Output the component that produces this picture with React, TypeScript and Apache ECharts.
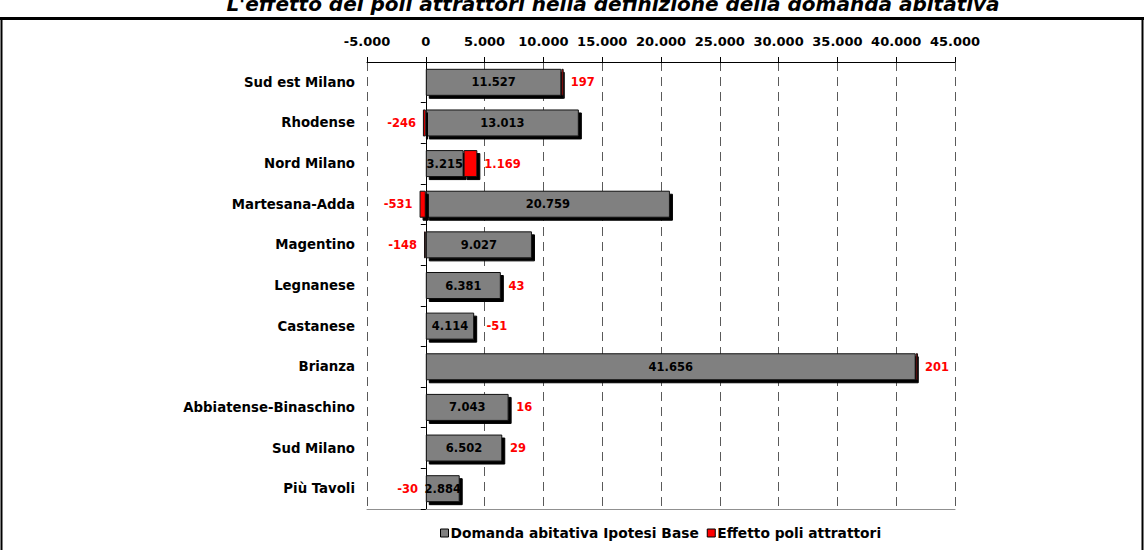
import React, { useEffect, useRef } from "react";
import * as echarts from "echarts";

const categories = [
  "Sud est Milano",
  "Rhodense",
  "Nord Milano",
  "Martesana-Adda",
  "Magentino",
  "Legnanese",
  "Castanese",
  "Brianza",
  "Abbiatense-Binaschino",
  "Sud Milano",
  "Più Tavoli",
];
const baseDemand = [11527, 13013, 3215, 20759, 9027, 6381, 4114, 41656, 7043, 6502, 2884];
const attractorEffect = [197, -246, 1169, -531, -148, 43, -51, 201, 16, 29, -30];
const axisMin = -5000;
const axisMax = 45000;
const axisStep = 5000;
const labelAfterBase = ["Castanese"];

const titleText = "L'effetto dei poli attrattori nella definizione della domanda abitativa";
const seriesNames = ["Domanda abitativa Ipotesi Base", "Effetto poli attrattori"];

const FONT = "'DejaVu Sans', 'Liberation Sans', Arial, sans-serif";

function fmt(v: number): string {
  const s = Math.abs(v)
    .toString()
    .replace(/\B(?=(\d{3})+(?!\d))/g, ".");
  return (v < 0 ? "-" : "") + s;
}

export default function App() {
  const ref = useRef<HTMLDivElement>(null);

  useEffect(() => {
    if (!ref.current) return;
    const chart = echarts.init(ref.current, undefined, { renderer: "svg" });

    const gridLeft = 367;
    const gridRight = 189;
    const gridWidth = 1144 - gridLeft - gridRight;
    const pxPerUnit = gridWidth / (axisMax - axisMin);

    const shadow = {
      shadowColor: "#000",
      shadowBlur: 0,
      shadowOffsetX: 3,
      shadowOffsetY: 3,
    };

    const effectData = attractorEffect.map((v, i) => {
      const after = labelAfterBase.includes(categories[i]);
      return {
        value: v,
        label: after
          ? {
              position: "right" as const,
              distance: 0,
              offset: [baseDemand[i] * pxPerUnit + 12, 0],
            }
          : { position: v < 0 ? ("left" as const) : ("right" as const) },
      };
    });

    chart.setOption({
      animation: false,
      backgroundColor: "#fff",
      textStyle: { fontFamily: FONT },
      graphic: [
        {
          type: "text",
          x: 613,
          y: 14,
          style: {
            text: titleText,
            font: `italic bold 20px ${FONT}`,
            fill: "#000",
            align: "center",
            verticalAlign: "bottom",
          },
        },
        {
          type: "line",
          shape: { x1: 0, y1: 18.5, x2: 1144, y2: 18.5 },
          style: { stroke: "#000", lineWidth: 3 },
        },
        {
          type: "line",
          shape: { x1: 1.5, y1: 17, x2: 1.5, y2: 550 },
          style: { stroke: "#000", lineWidth: 2 },
        },
        {
          type: "line",
          shape: { x1: 1142.5, y1: 17, x2: 1142.5, y2: 550 },
          style: { stroke: "#000", lineWidth: 2 },
        },
      ],
      legend: {
        data: seriesNames,
        left: 435,
        top: 521,
        itemWidth: 8,
        itemHeight: 8,
        itemGap: 8,
        textStyle: { fontFamily: FONT, fontWeight: "bold", fontSize: 13.8, color: "#000", padding: [0, 0, 0, -3] },
        icon: "rect",
        itemStyle: { borderColor: "#000", borderWidth: 1, shadowBlur: 0, shadowOffsetX: 0, shadowOffsetY: 0, shadowColor: "transparent" },
      },
      grid: { left: gridLeft, right: gridRight, top: 62, bottom: 41 },
      xAxis: [
        {
          type: "value",
          position: "top",
          min: axisMin,
          max: axisMax,
          interval: axisStep,
          axisLine: { show: true, lineStyle: { color: "#000", width: 1 } },
          axisTick: { show: true, length: 5, lineStyle: { color: "#000" } },
          axisLabel: {
            formatter: (v: number) => fmt(v),
            fontFamily: FONT,
            fontWeight: "bold",
            fontSize: 13,
            color: "#000",
            margin: 14,
          },
          splitLine: {
            show: true,
            showMinLine: true,
            showMaxLine: true,
            lineStyle: { color: "#5a5a5a", type: [9, 6], width: 1 },
          },
        },
        {
          type: "value",
          position: "bottom",
          min: axisMin,
          max: axisMax,
          interval: axisStep,
          axisLine: { show: true, onZero: false, lineStyle: { color: "#909090", width: 1 } },
          axisTick: { show: false },
          axisLabel: { show: false },
          splitLine: { show: false },
        },
      ],
      yAxis: {
        type: "category",
        data: categories,
        inverse: true,
        axisLine: { show: true, onZero: true, lineStyle: { color: "#000", width: 1 } },
        axisTick: { show: true, length: 5, lineStyle: { color: "#000" } },
        axisLabel: {
          fontFamily: FONT,
          fontWeight: "bold",
          fontSize: 13.3,
          color: "#000",
          margin: 12,
        },
      },
      series: [
        {
          name: seriesNames[0],
          type: "bar",
          stack: "tot",
          xAxisIndex: 0,
          barWidth: 27,
          data: baseDemand,
          itemStyle: { color: "#808080", borderColor: "#111", borderWidth: 1, ...shadow },
          label: {
            show: true,
            position: "inside",
            formatter: (p: any) => fmt(p.value),
            fontFamily: FONT,
            fontWeight: "bold",
            fontSize: 11.5,
            color: "#000",
          },
        },
        {
          name: seriesNames[1],
          type: "bar",
          stack: "tot",
          xAxisIndex: 0,
          barWidth: 27,
          data: effectData,
          itemStyle: { color: "#ff0000", borderColor: "#111", borderWidth: 1, ...shadow },
          label: {
            show: true,
            distance: 7,
            formatter: (p: any) => fmt(p.value),
            fontFamily: FONT,
            fontWeight: "bold",
            fontSize: 11.5,
            color: "#ff0000",
          },
        },
      ],
    });

    return () => chart.dispose();
  }, []);

  return (
    <div
      ref={ref}
      style={{ position: "fixed", left: 0, top: 0, width: 1144, height: 550, background: "#fff" }}
    />
  );
}
